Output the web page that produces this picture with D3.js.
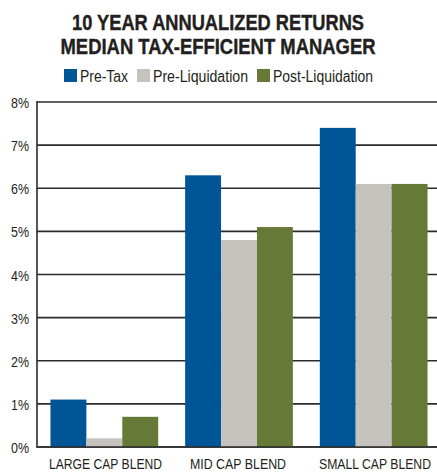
<!DOCTYPE html>
<html>
<head>
<meta charset="utf-8">
<script src="https://cdn.jsdelivr.net/npm/d3@7"></script>
<style>
  body { margin: 0; background: #fff; }
  svg text { font-family: "Liberation Sans", Arial, sans-serif; fill: #231f20; }
</style>
</head>
<body>
<div id="chart"></div>
<script>
// data
var categories = ["LARGE CAP BLEND", "MID CAP BLEND", "SMALL CAP BLEND"];
var seriesNames = ["Pre-Tax", "Pre-Liquidation", "Post-Liquidation"];
var preTax = [1.1, 6.3, 7.4];
var preLiquidation = [0.2, 4.8, 6.1];
var postLiquidation = [0.7, 5.1, 6.1];
var yTicks = [0, 1, 2, 3, 4, 5, 6, 7, 8];
var titleLines = ["10 YEAR ANNUALIZED RETURNS", "MEDIAN TAX-EFFICIENT MANAGER"];

var colors = ["#005596", "#c6c3be", "#677936"];

// widths of the condensed type in the original
var titleWidths = [292, 315];
var legendWidths = [48, 95, 100];
var catWidths = [113, 96, 112];

var width = 437, height = 473;
var svg = d3.select("#chart").append("svg")
    .attr("width", width)
    .attr("height", height);

// title
svg.selectAll(".title")
    .data(titleLines)
    .join("text")
    .attr("class", "title")
    .attr("x", 218)
    .attr("y", (d, i) => 29.5 + i * 24)
    .attr("text-anchor", "middle")
    .attr("textLength", (d, i) => titleWidths[i])
    .attr("lengthAdjust", "spacingAndGlyphs")
    .style("font-size", "21.5px")
    .style("font-weight", "bold")
    .style("stroke", "#231f20")
    .style("stroke-width", 0.4)
    .text(d => d);

// legend
var legendX = [64, 137, 257];
var legend = svg.selectAll(".legend")
    .data(seriesNames)
    .join("g")
    .attr("class", "legend")
    .attr("transform", (d, i) => `translate(${legendX[i]},69)`);
legend.append("rect")
    .attr("width", 13)
    .attr("height", 13)
    .attr("fill", (d, i) => colors[i]);
legend.append("text")
    .attr("x", 16)
    .attr("y", 13)
    .attr("textLength", (d, i) => legendWidths[i])
    .attr("lengthAdjust", "spacingAndGlyphs")
    .style("font-size", "16px")
    .text(d => d);

// scales
var x0 = d3.scaleBand()
    .domain(categories)
    .range([37, 441])
    .paddingInner(0.2)
    .paddingOuter(0.1);
var x1 = d3.scaleBand()
    .domain(seriesNames)
    .range([0, x0.bandwidth()]);
var y = d3.scaleLinear()
    .domain([0, 8])
    .range([447, 102]);

// gridlines
svg.selectAll(".grid")
    .data(yTicks)
    .join("line")
    .attr("class", "grid")
    .attr("x1", 37)
    .attr("x2", width)
    .attr("y1", d => y(d))
    .attr("y2", d => y(d))
    .attr("stroke", "#2b2b2b")
    .attr("stroke-width", 1.6);

// y labels
svg.selectAll(".ylab")
    .data(yTicks)
    .join("text")
    .attr("class", "ylab")
    .attr("x", 29)
    .attr("y", d => y(d) + 6)
    .attr("text-anchor", "end")
    .attr("textLength", 18)
    .attr("lengthAdjust", "spacingAndGlyphs")
    .style("font-size", "14.5px")
    .text(d => d + "%");

// bars
var rows = categories.map((c, i) => ({
    cat: c,
    vals: [preTax[i], preLiquidation[i], postLiquidation[i]]
}));
var groups = svg.selectAll(".group")
    .data(rows)
    .join("g")
    .attr("class", "group")
    .attr("transform", d => `translate(${x0(d.cat)},0)`);
groups.selectAll("rect")
    .data(d => d.vals.map((v, j) => ({name: seriesNames[j], value: v, j: j})))
    .join("rect")
    .attr("x", d => x1(d.name))
    .attr("width", x1.bandwidth())
    .attr("y", d => y(d.value))
    .attr("height", d => y(0) - y(d.value))
    .attr("fill", d => colors[d.j]);

// axis lines
svg.append("line")
    .attr("x1", 37).attr("x2", 37)
    .attr("y1", y(8) - 1).attr("y2", y(0) + 1)
    .attr("stroke", "#2b2b2b").attr("stroke-width", 1.6);
svg.append("line")
    .attr("x1", 37).attr("x2", width)
    .attr("y1", y(0)).attr("y2", y(0))
    .attr("stroke", "#2b2b2b").attr("stroke-width", 1.6);

// category labels (right edges as in the original)
var catRight = [162, 286, 431];
svg.selectAll(".xlab")
    .data(categories)
    .join("text")
    .attr("class", "xlab")
    .attr("x", (d, i) => catRight[i])
    .attr("y", 469)
    .attr("text-anchor", "end")
    .attr("textLength", (d, i) => catWidths[i])
    .attr("lengthAdjust", "spacingAndGlyphs")
    .style("font-size", "14.5px")
    .text(d => d);
</script>
</body>
</html>
